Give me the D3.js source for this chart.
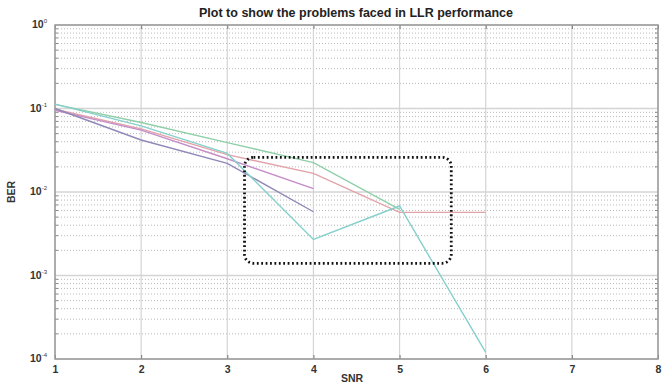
<!DOCTYPE html>
<html>
<head>
<meta charset="utf-8">
<script src="https://cdn.jsdelivr.net/npm/d3@7"></script>
<style>
  html, body { margin: 0; padding: 0; background: #fff; }
  svg { display: block; font-family: "Liberation Sans", Arial, sans-serif; }
</style>
</head>
<body>
<svg id="chart" width="662" height="385"></svg>
<script>
// ---- data ----
const snr = [1, 2, 3, 4, 5, 6];
const berGreen   = [0.112, 0.068, 0.039, 0.0225, 0.0062];
const berCyan    = [0.113, 0.062, 0.029, 0.0027, 0.0068, 0.00012];
const berRed     = [0.098, 0.057, 0.028, 0.0167, 0.0057, 0.0057];
const berMagenta = [0.095, 0.055, 0.025, 0.011];
const berPurple  = [0.100, 0.042, 0.022, 0.0058];
const xTicks = [1, 2, 3, 4, 5, 6, 7, 8];
const yExponents = [0, -1, -2, -3, -4];
const highlightBox = { x0: 3.2, x1: 5.6, y0: 0.026, y1: 0.0014 };
const titleText = "Plot to show the problems faced in LLR performance";

const series = [
  { name: "green",   values: berGreen,   color: "#8fcfa8" },
  { name: "red",     values: berRed,     color: "#e2a2aa" },
  { name: "magenta", values: berMagenta, color: "#c58cc8" },
  { name: "purple",  values: berPurple,  color: "#9088b8" },
  { name: "cyan",    values: berCyan,    color: "#86d0cc" }
];

// ---- layout ----
const svg = d3.select("#chart");
const m = { left: 55, right: 4, top: 25, bottom: 26 };
const W = 662, H = 385;
const x = d3.scaleLinear().domain([1, 8]).range([m.left, W - m.right]);
const y = d3.scaleLog().domain([1e-4, 1]).range([H - m.bottom, m.top]);

svg.append("rect").attr("width", W).attr("height", H).attr("fill", "#fff");

// minor horizontal grid (dotted)
const minorY = [];
for (let e = -4; e < 0; e++) for (let k = 2; k <= 9; k++) minorY.push(k * Math.pow(10, e));
svg.append("g").selectAll("line").data(minorY).join("line")
  .attr("x1", x(1)).attr("x2", x(8))
  .attr("y1", d => y(d)).attr("y2", d => y(d))
  .attr("stroke", "#b8b8b8").attr("stroke-width", 1)
  .attr("stroke-dasharray", "1,2");

// major grid
svg.append("g").selectAll("line").data(yExponents.map(e => Math.pow(10, e))).join("line")
  .attr("x1", x(1)).attr("x2", x(8))
  .attr("y1", d => y(d)).attr("y2", d => y(d))
  .attr("stroke", "#d4d4d4").attr("stroke-width", 1.5);
svg.append("g").selectAll("line").data(xTicks).join("line")
  .attr("x1", d => x(d)).attr("x2", d => x(d))
  .attr("y1", y(1)).attr("y2", y(1e-4))
  .attr("stroke", "#d4d4d4").attr("stroke-width", 1.2);

// axes
const xAxis = d3.axisBottom(x).tickValues(xTicks).tickSize(-4).tickPadding(7).tickFormat(d3.format("d"));
const gx = svg.append("g").attr("transform", `translate(0,${y(1e-4)})`).call(xAxis);
gx.select(".domain").remove();
gx.selectAll("line").attr("stroke", "#777");
gx.selectAll("text").attr("fill", "#333").attr("font-size", 10.5).attr("font-weight", "bold");

const gxTop = svg.append("g").attr("transform", `translate(0,${y(1)})`)
  .call(d3.axisTop(x).tickValues(xTicks).tickSize(-4).tickFormat(""));
gxTop.select(".domain").remove();
gxTop.selectAll("line").attr("stroke", "#777");

const yAxis = d3.axisLeft(y).tickValues(yExponents.map(e => Math.pow(10, e))).tickSize(0).tickFormat("");
const gy = svg.append("g").attr("transform", `translate(${x(1)},0)`).call(yAxis);
gy.select(".domain").remove();
// y tick labels 10^e
const yl = svg.append("g");
yExponents.forEach(e => {
  const t = yl.append("text")
    .attr("x", x(1) - 8).attr("y", y(Math.pow(10, e)) + 3)
    .attr("text-anchor", "end").attr("fill", "#333")
    .attr("font-size", 10.5).attr("font-weight", "bold");
  t.append("tspan").text("10");
  t.append("tspan").attr("dy", -5).attr("font-size", 6).attr("font-weight", "normal").text(String(e));
});

// minor ticks on left and right edges
svg.append("g").selectAll("line").data(minorY).join("line")
  .attr("x1", x(1)).attr("x2", x(1) + 3)
  .attr("y1", d => y(d)).attr("y2", d => y(d)).attr("stroke", "#888");
svg.append("g").selectAll("line").data(minorY).join("line")
  .attr("x1", x(8) - 3).attr("x2", x(8))
  .attr("y1", d => y(d)).attr("y2", d => y(d)).attr("stroke", "#888");

// frame
svg.append("rect")
  .attr("x", x(1)).attr("y", y(1))
  .attr("width", x(8) - x(1)).attr("height", y(1e-4) - y(1))
  .attr("fill", "none").attr("stroke", "#9a9a9a").attr("stroke-width", 1.5);

// series lines
const line = d3.line().x((d, i) => x(snr[i])).y(d => y(d));
svg.append("g").selectAll("path").data(series).join("path")
  .attr("d", d => line(d.values))
  .attr("fill", "none").attr("stroke", d => d.color).attr("stroke-width", 1.4);

// highlight box
const bx = x(highlightBox.x0), bx1 = x(highlightBox.x1);
const by = y(highlightBox.y0), by1 = y(highlightBox.y1);
svg.append("rect")
  .attr("x", bx).attr("y", by).attr("width", bx1 - bx).attr("height", by1 - by)
  .attr("rx", 9).attr("ry", 9)
  .attr("fill", "none").attr("stroke", "#111").attr("stroke-width", 2.8)
  .attr("stroke-dasharray", "1.8,2.6");

// title and labels
svg.append("text").attr("x", 356).attr("y", 17).attr("text-anchor", "middle")
  .attr("font-size", 12.5).attr("font-weight", "bold").attr("fill", "#222").text(titleText);
svg.append("text").attr("x", 352).attr("y", 382).attr("text-anchor", "middle")
  .attr("font-size", 10.5).attr("font-weight", "bold").attr("fill", "#333").text("SNR");
svg.append("text").attr("transform", `translate(15,${(y(1)+y(1e-4))/2}) rotate(-90)`)
  .attr("text-anchor", "middle")
  .attr("font-size", 10.5).attr("font-weight", "bold").attr("fill", "#333").text("BER");
</script>
</body>
</html>
